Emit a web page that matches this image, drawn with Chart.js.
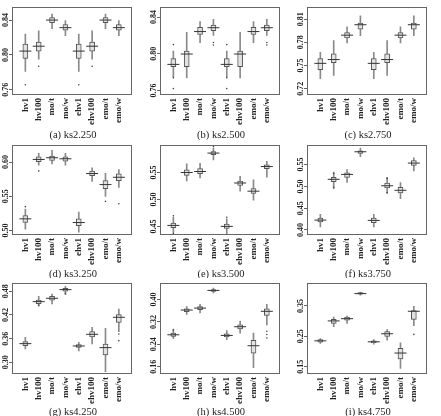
<!DOCTYPE html>
<html>
<head>
<meta charset="utf-8">
<script src="https://cdn.jsdelivr.net/npm/chart.js@4.4.1/dist/chart.umd.min.js"></script>
<style>
body { margin: 0; background: #fff; }
#wrap { position: relative; width: 441px; height: 416px; overflow: hidden; }
canvas { position: absolute; }
</style>
</head>
<body>
<div id="wrap"></div>
<script>
var cats = ['hv1', 'hv100', 'mo/t', 'mo/w', 'ehv1', 'ehv100', 'emo/t', 'emo/w'];
var captions = ['(a) ks2.250', '(b) ks2.500', '(c) ks2.750',
                '(d) ks3.250', '(e) ks3.500', '(f) ks3.750',
                '(g) ks4.250', '(h) ks4.500', '(i) ks4.750'];
var yTicks = [[0.76, 0.80, 0.84], [0.76, 0.80, 0.84], [0.72, 0.75, 0.78, 0.81],
              [0.50, 0.55, 0.60], [0.45, 0.50, 0.55], [0.40, 0.45, 0.50, 0.55],
              [0.30, 0.36, 0.42, 0.48], [0.16, 0.24, 0.32, 0.40], [0.15, 0.25, 0.35]];
var yMin = [0.754, 0.755, 0.712, 0.4936, 0.434, 0.3885, 0.2704, 0.134, 0.126];
var yMax = [0.855, 0.851, 0.8257, 0.625, 0.601, 0.595, 0.501, 0.459, 0.4256];

// whisker ends, box edges and medians per panel
var whiskLo = [
  [0.781, 0.795, 0.830, 0.822, 0.781, 0.795, 0.830, 0.822],
  [0.7744, 0.7737, 0.812, 0.820, 0.7744, 0.7737, 0.812, 0.820],
  [0.7332, 0.7373, 0.7794, 0.7885, 0.7332, 0.7373, 0.7794, 0.7885],
  [0.502, 0.5956, 0.5975, 0.5956, 0.4976, 0.572, 0.55, 0.5632],
  [0.439, 0.5342, 0.5397, 0.5732, 0.4366, 0.5153, 0.4988, 0.5415],
  [0.4071, 0.4948, 0.5089, 0.5684, 0.4071, 0.4837, 0.4718, 0.5357],
  [0.3338, 0.442, 0.4479, 0.4715, 0.3287, 0.3465, 0.2764, 0.3778],
  [0.2603, 0.3464, 0.3521, 0.4233, 0.2569, 0.2798, 0.157, 0.3097],
  [0.2267, 0.2817, 0.2923, 0.3854, 0.2246, 0.2373, 0.1442, 0.2849]
];
var boxLo = [
  [0.796, 0.8044, 0.837, 0.8284, 0.796, 0.8044, 0.837, 0.8284],
  [0.786, 0.786, 0.821, 0.8253, 0.786, 0.786, 0.821, 0.8253],
  [0.7447, 0.7537, 0.7856, 0.797, 0.7447, 0.7537, 0.7856, 0.797],
  [0.5118, 0.6005, 0.6024, 0.6015, 0.5074, 0.5804, 0.5613, 0.573],
  [0.4475, 0.5445, 0.5476, 0.583, 0.4463, 0.5262, 0.511, 0.5573],
  [0.4183, 0.5111, 0.5208, 0.5758, 0.4168, 0.4963, 0.4851, 0.5483],
  [0.3423, 0.4487, 0.4572, 0.48, 0.338, 0.3642, 0.3186, 0.4014],
  [0.2683, 0.3567, 0.3636, 0.4291, 0.266, 0.2947, 0.2086, 0.343],
  [0.231, 0.2923, 0.3029, 0.3886, 0.2288, 0.25, 0.1759, 0.3061]
];
var medians = [
  [0.8044, 0.810, 0.840, 0.8313, 0.8044, 0.810, 0.840, 0.8313],
  [0.7884, 0.7997, 0.8242, 0.8284, 0.7884, 0.7997, 0.8242, 0.8284],
  [0.7529, 0.7578, 0.7893, 0.8028, 0.7529, 0.7578, 0.7893, 0.8028],
  [0.5172, 0.6039, 0.6064, 0.6049, 0.5118, 0.5833, 0.5672, 0.5779],
  [0.4518, 0.55, 0.5518, 0.586, 0.45, 0.5305, 0.5153, 0.561],
  [0.4227, 0.5163, 0.5275, 0.5795, 0.422, 0.5015, 0.4911, 0.5535],
  [0.3473, 0.4538, 0.4623, 0.4842, 0.3414, 0.371, 0.3372, 0.4141],
  [0.2741, 0.3625, 0.3694, 0.4325, 0.2718, 0.3028, 0.235, 0.3579],
  [0.2352, 0.3008, 0.3082, 0.3907, 0.232, 0.2585, 0.195, 0.3325]
];
var boxHi = [
  [0.8125, 0.8148, 0.843, 0.8347, 0.8125, 0.8148, 0.843, 0.8347],
  [0.7947, 0.803, 0.8288, 0.8312, 0.7947, 0.803, 0.8288, 0.8312],
  [0.759, 0.7651, 0.7925, 0.8048, 0.759, 0.7651, 0.7925, 0.8048],
  [0.522, 0.6078, 0.6088, 0.6078, 0.5172, 0.5868, 0.573, 0.5828],
  [0.456, 0.5549, 0.5573, 0.589, 0.4543, 0.5342, 0.5201, 0.564],
  [0.4272, 0.5208, 0.5312, 0.5817, 0.4272, 0.5074, 0.4978, 0.5594],
  [0.3524, 0.458, 0.4673, 0.4876, 0.3448, 0.3778, 0.3465, 0.4208],
  [0.2798, 0.3671, 0.3751, 0.4359, 0.2775, 0.3097, 0.2546, 0.3671],
  [0.2394, 0.3061, 0.3135, 0.3939, 0.2352, 0.2659, 0.2109, 0.3346]
];
var whiskHi = [
  [0.824, 0.8277, 0.8468, 0.8395, 0.824, 0.8277, 0.8468, 0.8395],
  [0.803, 0.8235, 0.835, 0.8376, 0.803, 0.8235, 0.835, 0.8376],
  [0.7672, 0.7823, 0.80, 0.8142, 0.7672, 0.7823, 0.80, 0.8142],
  [0.5314, 0.6127, 0.6171, 0.6127, 0.527, 0.5917, 0.5838, 0.5892],
  [0.467, 0.5659, 0.567, 0.5952, 0.464, 0.5427, 0.5366, 0.5707],
  [0.436, 0.5327, 0.5386, 0.5877, 0.436, 0.5208, 0.5089, 0.5654],
  [0.3634, 0.4673, 0.4732, 0.4927, 0.3507, 0.3887, 0.3862, 0.4352],
  [0.2947, 0.3751, 0.3831, 0.4405, 0.289, 0.3234, 0.2798, 0.3831],
  [0.2426, 0.3135, 0.3167, 0.396, 0.2394, 0.2722, 0.2288, 0.3484]
];
// outliers: [category index, value]
var outliers = [
  [[0, 0.7657], [1, 0.787], [4, 0.7657], [5, 0.787]],
  [[0, 0.810], [0, 0.7737], [0, 0.762], [3, 0.8123], [3, 0.8095],
   [4, 0.810], [4, 0.7737], [4, 0.762], [7, 0.8123], [7, 0.8095]],
  [],
  [[0, 0.535], [1, 0.5872], [6, 0.5427], [7, 0.5392]],
  [[0, 0.4695], [0, 0.437], [3, 0.598], [4, 0.467]],
  [[1, 0.5297], [1, 0.498], [5, 0.518], [5, 0.486]],
  [[1, 0.445], [3, 0.475], [7, 0.3718], [7, 0.3549]],
  [[0, 0.2913], [7, 0.2867], [7, 0.2752], [7, 0.2626]],
  [[7, 0.2563]]
];

var FONT = '"Liberation Serif", "Times New Roman", serif';
var colLeft = [0, 148, 295], padRight = [2, 2, 0];
var rowTop = [0, 138, 276], padTop = [4, 7, 7], padBottom = [15, 13, 12], capY = [135, 136, 136];

var panelPlugin = {
  id: 'panel',
  afterDraw: function(chart, args, opts) {
    var ctx = chart.ctx, a = chart.chartArea, ys = chart.scales.y;
    ctx.save();
    ctx.strokeStyle = '#666';
    ctx.lineWidth = 1;
    ctx.strokeRect(Math.round(a.left) + 0.5, Math.round(a.top) + 0.5,
                   Math.round(a.right - a.left) - 1, Math.round(a.bottom - a.top) - 1);
    ctx.fillStyle = '#222';
    ctx.font = 'bold 8px ' + FONT;
    ctx.textAlign = 'center';
    ctx.textBaseline = 'middle';
    ys.ticks.forEach(function(t) {
      var y = ys.getPixelForValue(t.value);
      ctx.save();
      ctx.translate(a.left - 6, y);
      ctx.rotate(-Math.PI / 2);
      ctx.fillText(t.value.toFixed(2), 0, 0);
      ctx.restore();
    });
    ctx.font = '10.5px ' + FONT;
    ctx.fillText(opts.caption, chart.width / 2, opts.captionY);
    ctx.restore();
  }
};

var wrap = document.getElementById('wrap');
var labels = [''].concat(cats, [' ']);
function pad(arr) { return [null].concat(arr, [null]); }

for (var p = 0; p < 9; p++) {
  (function(p) {
    var r = Math.floor(p / 3), c = p % 3;
    var cv = document.createElement('canvas');
    cv.width = 146; cv.height = 140;
    cv.style.left = colLeft[c] + 'px';
    cv.style.top = rowTop[r] + 'px';
    wrap.appendChild(cv);

    var whisk = pad(whiskLo[p].map(function(v, i) { return [v, whiskHi[p][i]]; }));
    var box = pad(boxLo[p].map(function(v, i) { return [v, boxHi[p][i]]; }));
    var med = pad(medians[p]);
    var outl = outliers[p].map(function(o) { return { x: cats[o[0]], y: o[1] }; });

    new Chart(cv, {
      type: 'bar',
      data: {
        labels: labels,
        datasets: [
          { type: 'bar', data: whisk, barThickness: 1, backgroundColor: '#8a8a8a', grouped: false, order: 4 },
          { type: 'bar', data: box, barThickness: 5, backgroundColor: '#e2e2e2', borderColor: '#555',
            borderWidth: 1, borderSkipped: false, grouped: false, order: 3 },
          { type: 'line', data: med, showLine: false, pointStyle: 'line', pointRadius: 6,
            pointBorderColor: '#333', pointBorderWidth: 1, order: 2 },
          { type: 'line', data: outl, showLine: false, pointStyle: 'circle', pointRadius: 0.8,
            pointBackgroundColor: '#444', pointBorderWidth: 0, order: 1 }
        ]
      },
      options: {
        animation: false,
        responsive: false,
        layout: { padding: { top: padTop[r], right: padRight[c], bottom: padBottom[r], left: 0 } },
        plugins: {
          legend: { display: false },
          tooltip: { enabled: false },
          panel: { caption: captions[p], captionY: capY[r] }
        },
        scales: {
          x: {
            offset: false,
            grid: { display: false, drawTicks: false },
            border: { display: false },
            ticks: { autoSkip: false, minRotation: 90, maxRotation: 90, padding: 3, color: '#222',
                     font: { family: FONT, size: 9, weight: 'bold' } },
            afterFit: function(s) { s.height = 30; }
          },
          y: {
            min: yMin[p], max: yMax[p],
            border: { display: false },
            grid: { drawOnChartArea: false, tickLength: 3, color: '#666' },
            ticks: { display: false },
            afterBuildTicks: function(s) { s.ticks = yTicks[p].map(function(v) { return { value: v }; }); },
            afterFit: function(s) { s.width = 12; }
          }
        }
      },
      plugins: [panelPlugin]
    });
  })(p);
}
</script>
</body>
</html>
